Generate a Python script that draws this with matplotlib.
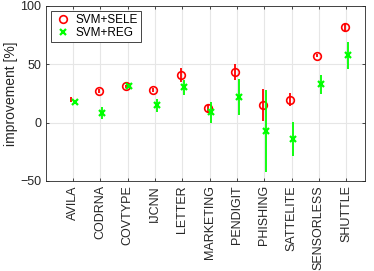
import numpy as np
import matplotlib
matplotlib.use('Agg')
import matplotlib.pyplot as plt
from matplotlib.lines import Line2D

plt.rcParams['font.family'] = ['Liberation Sans', 'DejaVu Sans']
plt.rcParams['font.size'] = 9

datasets = ['AVILA', 'CODRNA', 'COVTYPE', 'IJCNN', 'LETTER', 'MARKETING',
            'PENDIGIT', 'PHISHING', 'SATTELITE', 'SENSORLESS', 'SHUTTLE']

sele_mean = [20, 27, 31, 28, 40.6, 12.3, 43.7, 15, 19.7, 57.4, 81.7]
sele_err = [2.2, 1.5, 1.5, 1.5, 6, 3, 7, 14, 5.5, 1.5, 4]
reg_mean = [18, 8, 31, 15, 30.3, 8.9, 22.3, -7.1, -14.3, 32.9, 57.7]
reg_err = [1.5, 5, 1, 5.5, 6.5, 9, 15.5, 35, 14.5, 8, 11.7]

x = np.arange(1, len(datasets) + 1)
off = 0.06

fig = plt.figure(figsize=(3.74, 2.71), dpi=100)
ax = fig.add_axes([45.7 / 374, 1 - 181 / 271, (365.3 - 45.7) / 374, (181 - 6) / 271])

red = (1, 0, 0)
green = (0, 1, 0)
dark = (0.15, 0.15, 0.15)

ax.errorbar(x - off, sele_mean, yerr=sele_err, fmt='none', ecolor=red, elinewidth=1.3, capsize=0, zorder=3)
# AVILA circle is not drawn in the original
ax.plot(x[1:] - off, sele_mean[1:], 'o', color=red, mfc='none', ms=5.5, mew=1.2, zorder=4)
ax.errorbar(x + off, reg_mean, yerr=reg_err, fmt='x', color=green, ecolor=green,
            elinewidth=1.3, capsize=0, ms=4, mew=1.6, zorder=5)

ax.set_xlim(0, 11.7)
ax.set_ylim(-50, 100)
ax.set_yticks([-50, 0, 50, 100])
ax.set_xticks(x)
ax.set_xticklabels(datasets, rotation=90)
ax.set_ylabel('improvement [%]', color=dark, fontsize=10, labelpad=2)

ax.grid(True, color=(0.9, 0.9, 0.9), linewidth=0.8)
ax.set_axisbelow(True)
for s in ax.spines.values():
    s.set_color(dark)
    s.set_linewidth(0.6)
ax.tick_params(direction='in', length=2.5, width=0.6, colors=dark,
               top=True, right=True, pad=3)

handles = [
    Line2D([], [], marker='o', color=red, mfc='none', ls='none', ms=5.5, mew=1.2),
    Line2D([], [], marker='x', color=green, ls='none', ms=4, mew=1.6),
]
leg = ax.legend(handles, ['SVM+SELE', 'SVM+REG'], loc='upper left', fancybox=False,
                edgecolor=dark, framealpha=1, borderpad=0.25, fontsize=8.5,
                handletextpad=0.3, labelspacing=0.1, handlelength=1.5,
                borderaxespad=0, bbox_to_anchor=(0.017, 0.971))
leg.get_frame().set_linewidth(0.6)

fig.savefig('out.png', dpi=100)
